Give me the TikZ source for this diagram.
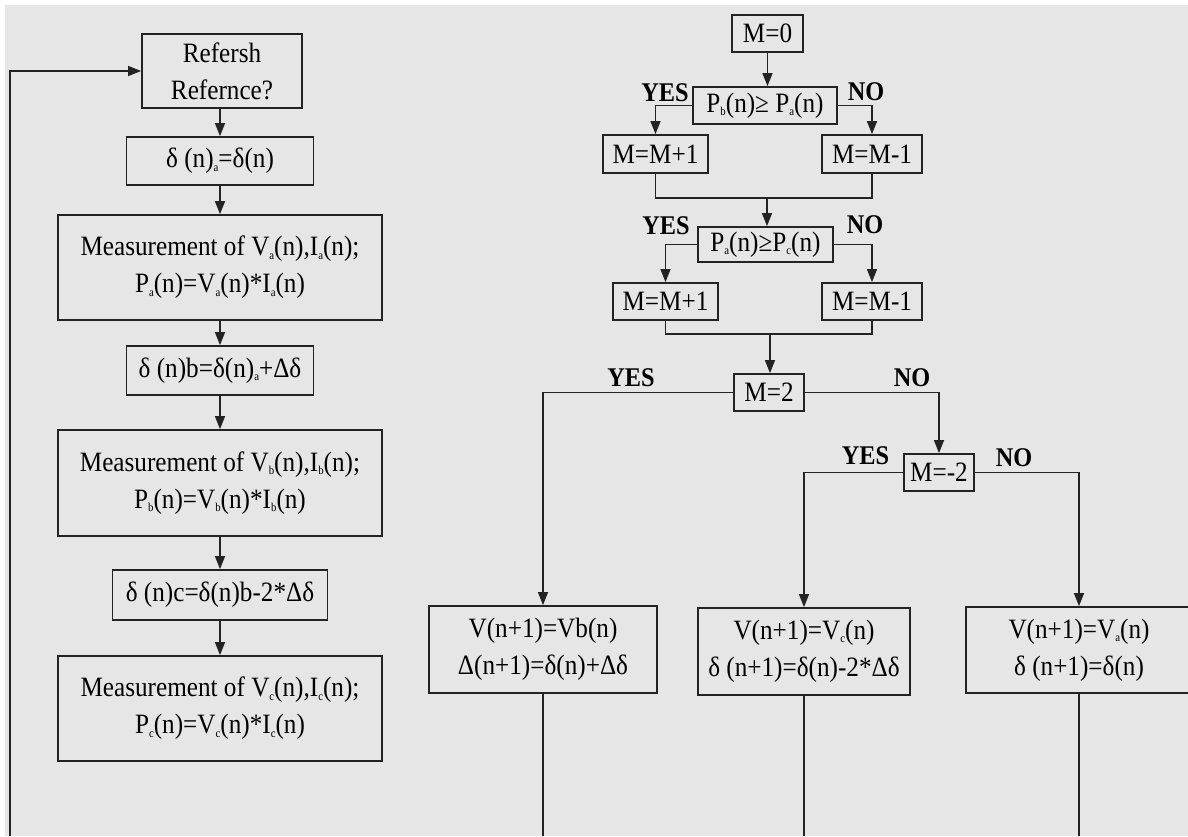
\documentclass[tikz,border=0pt]{standalone}
\usepackage{fontspec}
\setmainfont{Liberation Serif}[FakeStretch=0.9]
\usetikzlibrary{arrows.meta}
\newcommand\sbs[1]{\raisebox{-0.25ex}{\fontsize{12}{12}\selectfont #1}}
\definecolor{bggray}{RGB}{230,230,230}
\definecolor{ink}{RGB}{35,35,35}
\begin{document}
\begin{tikzpicture}[x=1pt,y=-1pt,
  box/.style={draw=ink, line width=1.8pt, inner sep=0pt, align=center,
    font=\fontsize{28}{37}\selectfont},
  bx/.style 2 args={box, minimum width=#1, minimum height=#2},
  conn/.style={line width=1.3pt, draw=ink},
  arr/.style={conn, -{Triangle[length=13pt,width=10pt]}},
  lbl/.style={font=\bfseries\fontsize{27}{27}\selectfont, inner sep=0pt}]
\useasboundingbox (0,0) rectangle (1188,836);
\fill[white] (0,0) rectangle (1188,836);
\fill[bggray] (5,5) rectangle (1188,836);

% left column
\node[bx={160}{74}] (ref) at (222,71) {Refersh\\Refernce?};
\node[bx={187}{48}] (da) at (220,161) {δ (n)\sbs{a}=δ(n)};
\node[bx={324}{105}] (ma) at (220,267.5) {Measurement of V\sbs{a}(n),I\sbs{a}(n);\\P\sbs{a}(n)=V\sbs{a}(n)*I\sbs{a}(n)};
\node[bx={187}{49}] (db) at (220,370.5) {δ (n)b=δ(n)\sbs{a}+Δδ};
\node[bx={324}{106}] (mb) at (220,483) {Measurement of V\sbs{b}(n),I\sbs{b}(n);\\P\sbs{b}(n)=V\sbs{b}(n)*I\sbs{b}(n)};
\node[bx={215}{50}] (dc) at (220,595) {δ (n)c=δ(n)b-2*Δδ};
\node[bx={324}{105}] (mc) at (220,708.5) {Measurement of V\sbs{c}(n),I\sbs{c}(n);\\P\sbs{c}(n)=V\sbs{c}(n)*I\sbs{c}(n)};

\coordinate (lb) at (10,836);
\draw[arr] (lb) |- (ref.west);
\draw[arr] (ref.south -| da.north) -- (da.north);
\draw[arr] (da.south) -- (ma.north);
\draw[arr] (ma.south) -- (db.north);
\draw[arr] (db.south) -- (mb.north);
\draw[arr] (mb.south) -- (dc.north);
\draw[arr] (dc.south) -- (mc.north);

% right part
\node[bx={71}{37}] (m0) at (767.5,33.5) {M=0};
\node[bx={144}{37}] (pb) at (765,105.5) {P\sbs{b}(n)≥ P\sbs{a}(n)};
\node[bx={105}{38}] (mp1) at (655.5,154) {M=M+1};
\node[bx={100}{38}] (mm1) at (872,154) {M=M-1};
\node[bx={135}{35}] (pa) at (765.5,244.5) {P\sbs{a}(n)≥P\sbs{c}(n)};
\node[bx={105}{37}] (mp2) at (665.5,301.5) {M=M+1};
\node[bx={100}{37}] (mm2) at (872,301.5) {M=M-1};
\node[bx={70}{37}] (m2) at (769,392.5) {M=2};
\node[bx={70}{37}] (mn2) at (939,472.5) {M=-2};
\node[bx={228}{87}] (vb) at (543,649.5) {V(n+1)=Vb(n)\\Δ(n+1)=δ(n)+Δδ};
\node[bx={212}{87}] (vc) at (804,651.5) {V(n+1)=V\sbs{c}(n)\\δ (n+1)=δ(n)-2*Δδ};
\node[bx={226}{86}] (va) at (1079,650) {V(n+1)=V\sbs{a}(n)\\δ (n+1)=δ(n)};

\node[lbl] (y1) at (665,93) {YES};
\node[lbl] (n1) at (866,92) {NO};
\node[lbl] (y2) at (666,226) {YES};
\node[lbl] (n2) at (865,225) {NO};
\node[lbl] (y3) at (631,378) {YES};
\node[lbl] (n3) at (912,378) {NO};
\node[lbl] (y4) at (865.5,456) {YES};
\node[lbl] (n4) at (1014,458) {NO};

\coordinate (j1) at (767,198);
\coordinate (j2) at (770,334);
\draw[arr] (m0.south) -- (m0.south |- pb.north);
\draw[arr] (pb.west) -| (mp1.north);
\draw[arr] (pb.east) -| (mm1.north);
\draw[conn] (mp1.south) |- (j1) -| (mm1.south);
\draw[arr] (j1) -- (j1 |- pa.north);
\draw[arr] (pa.west) -| (mp2.north);
\draw[arr] (pa.east) -| (mm2.north);
\draw[conn] (mp2.south) |- (j2) -| (mm2.south);
\draw[arr] (j2) -- (j2 |- m2.north);
\draw[arr] (m2.west) -| (vb.north);
\draw[arr] (m2.east) -| (mn2.north);
\draw[arr] (mn2.west) -| (vc.north);
\draw[arr] (mn2.east) -| (va.north);

\coordinate (eb) at (543,836);
\coordinate (ec) at (804,836);
\coordinate (ea) at (1079,836);
\draw[conn] (vb.south) -- (eb);
\draw[conn] (vc.south) -- (ec);
\draw[conn] (va.south) -- (ea);
\end{tikzpicture}
\end{document}
